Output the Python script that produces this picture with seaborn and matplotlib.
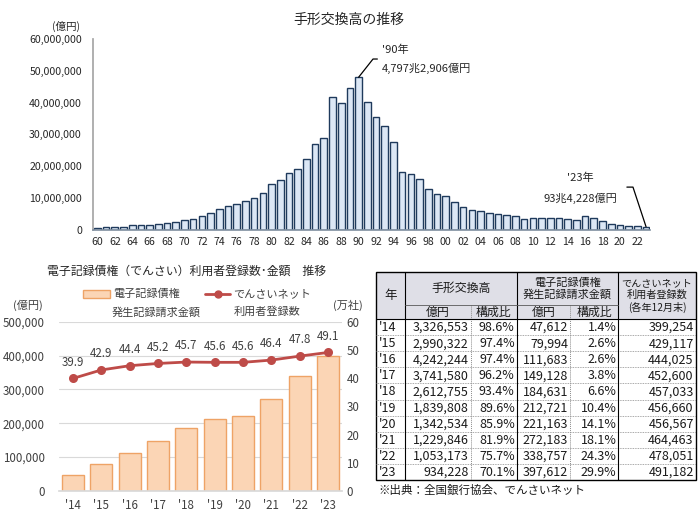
import numpy as np
import pandas as pd
import matplotlib
matplotlib.use('Agg')
import matplotlib.pyplot as plt
import seaborn as sns
from matplotlib.ticker import FuncFormatter
from matplotlib.patches import Rectangle
from matplotlib.lines import Line2D

sns.set_theme(style='white')
plt.rcParams['font.family'] = ['Noto Sans CJK JP', 'DejaVu Sans']

# --- data ---
# 手形交換高 (億円) 1960-2023
years_all = list(range(1960, 2024))
clearing = [450000, 700000, 900000, 1000000, 1350000, 1400000, 1600000, 1750000, 2100000, 2500000,
            3100000, 3500000, 4200000, 5400000, 6550000, 7300000, 8000000, 8900000, 10000000, 11600000,
            14350000, 15600000, 17850000, 19100000, 22350000, 26900000, 28850000, 41650000, 39850000, 44700000,
            47972906, 40300000, 35600000, 32500000, 27500000, 18300000, 17400000, 15800000, 12800000, 11200000,
            10500000, 8600000, 7000000, 6100000, 5900000, 5100000, 4800000, 4700000, 4300000, 3500000,
            3800000, 3800000, 3700000, 3700000, 3326553, 2990322, 4242244, 3741580, 2612755, 1839808,
            1342534, 1229846, 1053173, 934228]

# でんさい
d_labels = ["'14", "'15", "'16", "'17", "'18", "'19", "'20", "'21", "'22", "'23"]
tegata = [3326553, 2990322, 4242244, 3741580, 2612755, 1839808, 1342534, 1229846, 1053173, 934228]
tegata_share = [98.6, 97.4, 97.4, 96.2, 93.4, 89.6, 85.9, 81.9, 75.7, 70.1]
densai_amount = [47612, 79994, 111683, 149128, 184631, 212721, 221163, 272183, 338757, 397612]
densai_share = [1.4, 2.6, 2.6, 3.8, 6.6, 10.4, 14.1, 18.1, 24.3, 29.9]
users = [399254, 429117, 444025, 452600, 457033, 456660, 456567, 464463, 478051, 491182]
users_man = [39.9, 42.9, 44.4, 45.2, 45.7, 45.6, 45.6, 46.4, 47.8, 49.1]

W, H = 700, 519
fig = plt.figure(figsize=(7, 5.19), dpi=100)

def rect(l, t, r, b):
    return [l / W, 1 - b / H, (r - l) / W, (b - t) / H]

# overlay in pixel coords for table and free texts
ov = fig.add_axes([0, 0, 1, 1])
ov.set_xlim(0, W)
ov.set_ylim(H, 0)
ov.axis('off')

# ---------- top chart ----------
ax1 = fig.add_axes(rect(93, 39, 650.4, 229.7))
df_top = pd.DataFrame({'year': [str(y) for y in years_all], 'value': clearing})
sns.barplot(data=df_top, x='year', y='value', color='#dce7f5', edgecolor='#1f3a5c',
            linewidth=1.0, width=0.76, saturation=1, ax=ax1)
ax1.set_xlim(-0.5, len(years_all) - 0.5)
ax1.set_ylim(0, 60000000)
ax1.set_yticks(range(0, 60000001, 10000000))
ax1.yaxis.set_major_formatter(FuncFormatter(lambda v, p: f'{v:,.0f}'))
ax1.set_xticks(range(0, len(years_all), 2))
ax1.set_xticklabels([f'{y % 100:02d}' for y in years_all[::2]])
ax1.tick_params(axis='y', length=0, pad=8, labelsize=7.6, labelcolor='#262626')
ax1.tick_params(axis='x', length=0, pad=5, labelsize=7.6, labelcolor='#262626')
ax1.set_xlabel('')
ax1.set_ylabel('')
for s in ['top', 'right']:
    ax1.spines[s].set_visible(False)
ax1.spines['left'].set_color('#a6a6a6')
ax1.spines['bottom'].set_color('#7f8fa0')
ax1.spines['bottom'].set_linewidth(1.2)

ov.text(349, 20, '手形交換高の推移', ha='center', va='center', fontsize=10, color='#262626')
ov.text(66, 26, '(億円)', ha='center', va='center', fontsize=7.6, color='#262626')

# annotations
i90 = years_all.index(1990)
v90 = clearing[i90]
ax1.plot([i90, i90 + 1.65, i90 + 2.15], [v90, 53.7e6, 53.7e6], color='black', lw=0.9, clip_on=False)
ax1.text(i90 + 2.7, 56.5e6, "'90年", ha='left', va='center', fontsize=8, color='#262626')
ax1.text(i90 + 2.7, 50.6e6, '4,797兆2,906億円', ha='left', va='center', fontsize=8, color='#262626')
i23 = years_all.index(2023)
v23 = clearing[i23]
ax1.plot([i23 - 2.2, i23 - 1.5, i23], [13.4e6, 13.4e6, v23], color='black', lw=0.9, clip_on=False)
ax1.text(55.5, 16.3e6, "'23年", ha='center', va='center', fontsize=8, color='#262626')
ax1.text(55.5, 10.0e6, '93兆4,228億円', ha='center', va='center', fontsize=8, color='#262626')

# ---------- bottom-left chart ----------
ax2 = fig.add_axes(rect(58.85, 321.7, 342.2, 491))
sns.barplot(x=d_labels, y=densai_amount, color='#fbd5b5', edgecolor='#eea366',
            linewidth=1.0, width=0.78, saturation=1, ax=ax2, zorder=2)
ax2.set_ylim(0, 500000)
ax2.set_yticks(range(0, 500001, 100000))
ax2.yaxis.set_major_formatter(FuncFormatter(lambda v, p: f'{v:,.0f}'))
ax2.grid(axis='y', color='#d9d9d9', lw=0.8, zorder=0)
ax2.set_axisbelow(True)
for s in ['top', 'right', 'left']:
    ax2.spines[s].set_visible(False)
ax2.spines['bottom'].set_color('#d9d9d9')
ax2.tick_params(axis='y', length=0, pad=10, labelsize=8.3, labelcolor='#404040')
ax2.tick_params(axis='x', length=0, pad=6, labelsize=8.3, labelcolor='#404040')

ax3 = ax2.twinx()
sns.pointplot(x=d_labels, y=users_man, color='#be4b48', markers='o', markersize=5,
              linewidth=2, errorbar=None, ax=ax3)
ax3.set_ylim(0, 60)
ax3.set_yticks(range(0, 61, 10))
for s in ['top', 'right', 'left', 'bottom']:
    ax3.spines[s].set_visible(False)
ax3.tick_params(axis='y', length=0, pad=3, labelsize=8.3, labelcolor='#404040')
ax3.set_ylabel('')
ax2.set_xlabel('')
ax2.set_ylabel('')
ax2.set_xlim(-0.5, len(d_labels) - 0.5)
for i, v in enumerate(users_man):
    ax3.annotate(f'{v:.1f}', (i, v), xytext=(0, 7), textcoords='offset points',
                 ha='center', va='bottom', fontsize=8.3, color='#404040')

ov.text(187, 271, '電子記録債権（でんさい）利用者登録数･金額　推移', ha='center', va='center',
        fontsize=8.6, color='#262626')
ov.text(28, 305, '(億円)', ha='center', va='center', fontsize=8, color='#404040')
ov.text(348, 305, '(万社)', ha='center', va='center', fontsize=8, color='#404040')
# legend
ov.add_patch(Rectangle((83, 290), 27, 8, facecolor='#fbd5b5', edgecolor='#eea366', lw=1))
ov.text(113, 294, '電子記録債権', ha='left', va='center', fontsize=8, color='#404040')
ov.text(112, 312, '発生記録請求金額', ha='left', va='center', fontsize=8, color='#404040')
ov.add_line(Line2D([205, 230], [294, 294], color='#be4b48', lw=2))
ov.add_line(Line2D([217.5], [294], color='#be4b48', marker='o', markersize=5))
ov.text(233, 294, 'でんさいネット', ha='left', va='center', fontsize=8, color='#404040')
ov.text(234, 312, '利用者登録数', ha='left', va='center', fontsize=8, color='#404040')

# ---------- table ----------
cx = [376, 404.5, 470.7, 516.7, 570, 618.3, 695.7]
top, mid, hdr = 272, 304.7, 319
row_h = (480 - hdr) / len(d_labels)
bot = hdr + row_h * len(d_labels)
hfill = '#dfdfe7'
ov.add_patch(Rectangle((cx[0], top), cx[-1] - cx[0], hdr - top, facecolor=hfill, edgecolor='none'))
# row lines
for k in range(1, len(d_labels)):
    y = hdr + k * row_h
    ov.add_line(Line2D([cx[0], cx[-1]], [y, y], color='#8c8c8c', lw=0.6, ls=(0, (1, 1))))
# dotted vertical lines
for x in (cx[2], cx[4]):
    ov.add_line(Line2D([x, x], [mid, bot], color='#8c8c8c', lw=0.7, ls=(0, (1, 1))))
# solid lines
for x in (cx[1], cx[3], cx[5]):
    ov.add_line(Line2D([x, x], [top, bot], color='black', lw=0.8))
ov.add_line(Line2D([cx[1], cx[5]], [mid, mid], color='#595959', lw=0.6))
ov.add_line(Line2D([cx[0], cx[-1]], [hdr, hdr], color='black', lw=0.8))
ov.add_patch(Rectangle((cx[0], top), cx[-1] - cx[0], bot - top, facecolor='none', edgecolor='black', lw=1))

tc = '#1a1a1a'
ov.text((cx[0] + cx[1]) / 2, (top + hdr) / 2, '年', ha='center', va='center', fontsize=9, color=tc)
ov.text((cx[1] + cx[3]) / 2, (top + mid) / 2, '手形交換高', ha='center', va='center', fontsize=8.6, color=tc)
ov.text((cx[3] + cx[5]) / 2, (top + mid) / 2, '電子記録債権\n発生記録請求金額', ha='center', va='center',
        fontsize=8, color=tc, linespacing=1.15)
ov.text((cx[5] + cx[6]) / 2, (top + hdr) / 2, 'でんさいネット\n利用者登録数\n(各年12月末)', ha='center',
        va='center', fontsize=7.3, color=tc, linespacing=1.2)
for j, lab in zip(range(1, 5), ['億円', '構成比', '億円', '構成比']):
    ov.text((cx[j] + cx[j + 1]) / 2, (mid + hdr) / 2 + 0.5, lab, ha='center', va='center', fontsize=8.6, color=tc)

for k in range(len(d_labels)):
    y = hdr + (k + 0.5) * row_h + 0.5
    ov.text(cx[0] + 3, y, d_labels[k], ha='left', va='center', fontsize=9, color=tc)
    ov.text(cx[2] - 2, y, f'{tegata[k]:,}', ha='right', va='center', fontsize=9, color=tc)
    ov.text(cx[3] - 2, y, f'{tegata_share[k]:.1f}%', ha='right', va='center', fontsize=9, color=tc)
    ov.text(cx[4] - 2, y, f'{densai_amount[k]:,}', ha='right', va='center', fontsize=9, color=tc)
    ov.text(cx[5] - 2, y, f'{densai_share[k]:.1f}%', ha='right', va='center', fontsize=9, color=tc)
    ov.text(cx[6] - 2, y, f'{users[k]:,}', ha='right', va='center', fontsize=9, color=tc)

ov.text(378, 490, '※出典：全国銀行協会、でんさいネット', ha='left', va='center', fontsize=8.3, color=tc)

fig.savefig('out.png', dpi=100)
